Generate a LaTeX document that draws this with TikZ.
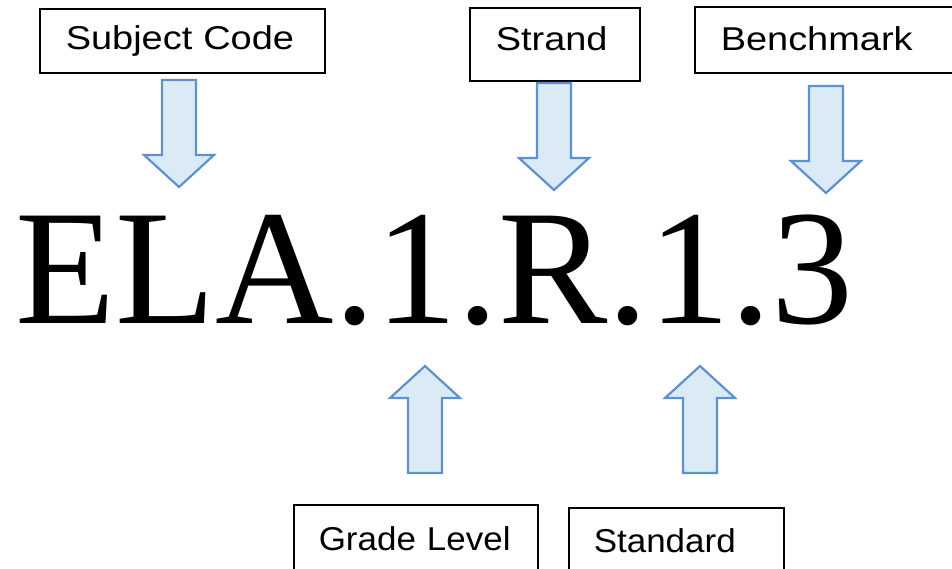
\documentclass[tikz,border=0pt]{standalone}
\usepackage{fontspec}
\setmainfont{Liberation Serif}
\newfontfamily\tagfont[FakeStretch=1.15]{Liberation Sans}
\newfontfamily\tagfontb[FakeStretch=1.06]{Liberation Sans}
\definecolor{arrfill}{RGB}{218,235,246}
\definecolor{arrline}{RGB}{95,145,205}
\tikzset{
  tag/.style={draw=black, line width=1.5pt, anchor=base west, inner ysep=0pt, align=left,
    font=\tagfont\fontsize{33}{36}\selectfont},
  lowtag/.style={tag, font=\tagfontb\fontsize{33}{36}\selectfont},
  blockarrow/.pic={
    \draw[fill=arrfill, draw=arrline, line width=2.2pt, line join=miter]
      (-17,0) -- (17,0) -- (17,75) -- (35,75) -- (0,107) -- (-35,75) -- (-17,75) -- cycle;
  }
}
\begin{document}
\begin{tikzpicture}[x=1pt,y=-1pt]
      \useasboundingbox (0,0) rectangle (952,568);
      \node[tag, inner xsep=26pt, text width=233pt, text height=40pt, text depth=24pt] (subj) at (39,49) {Subject Code};
      \node[tag, inner xsep=26pt, text width=118pt, text height=42pt, text depth=31pt] (strand) at (469,50) {Strand};
      \node[tag, inner xsep=26pt, text width=250pt, text height=43pt, text depth=23pt] (bench) at (694,50) {Benchmark};
      \node[lowtag, inner xsep=25pt, text width=194pt, text height=45pt, text depth=40pt] (grade) at (293,550) {Grade Level};
      \node[lowtag, inner xsep=25pt, text width=165pt, text height=44pt, text depth=38pt] (std) at (568,552) {Standard};
      \node[anchor=base west, inner sep=0pt, font=\fontsize{164}{164}\selectfont] (code) at (15,323) {ELA.1.R.1.3};
      \pic at (179,80) {blockarrow};
      \pic at (554,83) {blockarrow};
      \pic at (826,86) {blockarrow};
      \pic[rotate=180] at (425,473) {blockarrow};
      \pic[rotate=180] at (700,473) {blockarrow};
     \end{tikzpicture}
\end{document}
